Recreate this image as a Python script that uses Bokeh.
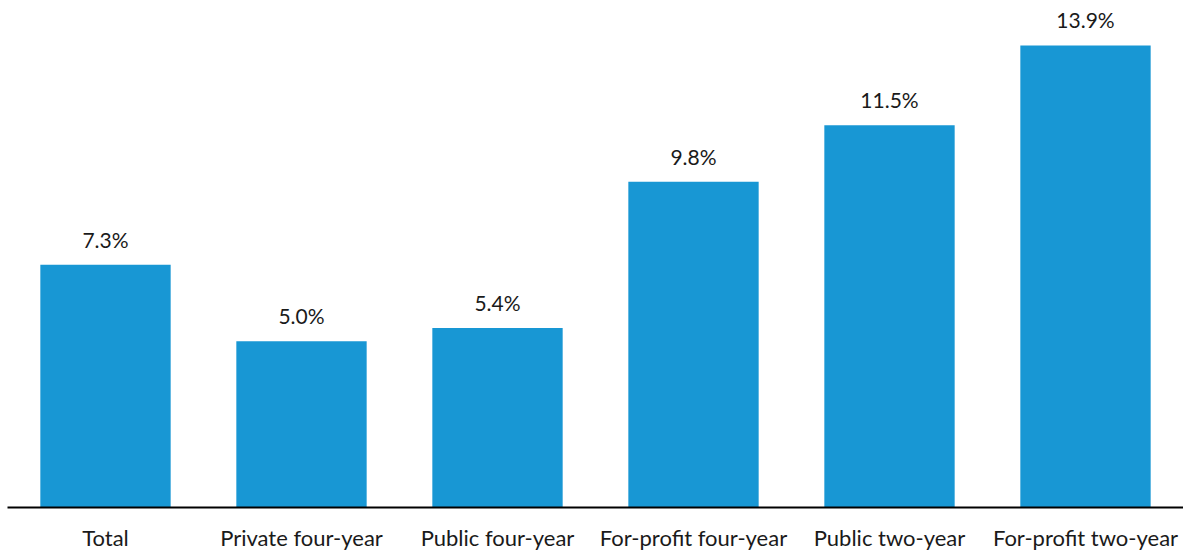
from bokeh.plotting import figure
from bokeh.models import ColumnDataSource, LabelSet, Range1d
from bokeh.core.properties import value
from bokeh.embed import file_html
from bokeh.resources import INLINE

categories = ["Total", "Private four-year", "Public four-year", "For-profit four-year",
              "Public two-year", "For-profit two-year"]
values = [7.3, 5.0, 5.4, 9.8, 11.5, 13.9]
labels = ["7.3%", "5.0%", "5.4%", "9.8%", "11.5%", "13.9%"]

src = ColumnDataSource(dict(cat=categories, val=values, lab=labels))

p = figure(x_range=categories, y_range=Range1d(0, 15.25), width=1183, height=553,
           output_backend="svg", toolbar_location=None,
           min_border_left=7, min_border_right=0, min_border_top=0, min_border_bottom=0)
p.x_range.range_padding = 0
p.vbar(x="cat", top="val", width=0.665, source=src, color="#1897d4", line_color=None)

p.add_layout(LabelSet(x="cat", y="val", text="lab", source=src, text_align="center",
                      text_baseline="alphabetic", y_offset=17, text_font=value("Lato"),
                      text_font_size="21px", text_color="#1a1a1a"))

p.yaxis.visible = False
p.xgrid.visible = False
p.ygrid.visible = False
p.outline_line_color = None
p.xaxis.axis_line_color = "#000000"
p.xaxis.axis_line_width = 2
p.xaxis.major_tick_line_color = None
p.xaxis.minor_tick_line_color = None
p.xaxis.major_tick_out = 0
p.xaxis.major_tick_in = 0
p.xaxis.major_label_text_font = "Lato"
p.xaxis.major_label_text_font_size = "22px"
p.xaxis.major_label_text_color = "#1a1a1a"
p.xaxis.major_label_standoff = 16

open("out.html", "w").write(file_html(p, INLINE))
